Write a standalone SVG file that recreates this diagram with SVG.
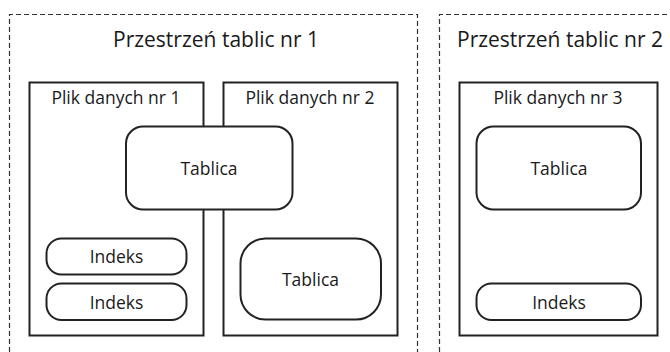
<svg xmlns="http://www.w3.org/2000/svg" width="670" height="352" viewBox="0 0 670 352">
<defs>
<style>
.space{fill:none;stroke:#333;stroke-width:1.2;stroke-dasharray:5 3}
.file{fill:#fff;stroke:#222;stroke-width:2}
.obj{fill:#fff;stroke:#222;stroke-width:2}
text{font-family:"Open Sans","Noto Sans",sans-serif;fill:#1a1a1a;text-anchor:middle;font-weight:500}
.title{font-size:21px}
.label{font-size:17.5px}
.otext{font-size:17.5px}
</style>
</defs>
<rect width="670" height="352" fill="#fff"/>
<g id="space1">
<path class="space" d="M9.5,360 V14.5 H417.5 V360"/>
<text class="title" x="216" y="47">Przestrzeń tablic nr 1</text>
</g>
<g id="space2">
<path class="space" d="M439.5,360 V14.5 H680"/>
<text class="title" x="560" y="47">Przestrzeń tablic nr 2</text>
</g>
<g id="file1">
<rect class="file" x="29.5" y="82.5" width="174" height="253"/>
<text class="label" x="116" y="104">Plik danych nr 1</text>
</g>
<g id="file2">
<rect class="file" x="223.5" y="82.5" width="174" height="253"/>
<text class="label" x="310" y="104">Plik danych nr 2</text>
</g>
<g id="file3">
<rect class="file" x="459.5" y="82.5" width="198" height="253"/>
<text class="label" x="558" y="104">Plik danych nr 3</text>
</g>
<g id="table1">
<rect class="obj" x="126" y="126.5" width="166.5" height="83" rx="17"/>
<text class="otext" x="209" y="175">Tablica</text>
</g>
<g id="index1">
<rect class="obj" x="46.5" y="238.5" width="140" height="36" rx="15"/>
<text class="otext" x="116.5" y="263">Indeks</text>
</g>
<g id="index2">
<rect class="obj" x="46.5" y="283.5" width="140" height="36.5" rx="15"/>
<text class="otext" x="116.5" y="308.5">Indeks</text>
</g>
<g id="table2">
<rect class="obj" x="240.5" y="238.5" width="140.5" height="81" rx="25"/>
<text class="otext" x="310.5" y="286">Tablica</text>
</g>
<g id="table3">
<rect class="obj" x="476.5" y="126.5" width="164.5" height="83" rx="17"/>
<text class="otext" x="559" y="175">Tablica</text>
</g>
<g id="index3">
<rect class="obj" x="476.5" y="283.5" width="164.5" height="36.5" rx="15"/>
<text class="otext" x="559" y="308.5">Indeks</text>
</g>
<g id="connectors"></g>
</svg>
